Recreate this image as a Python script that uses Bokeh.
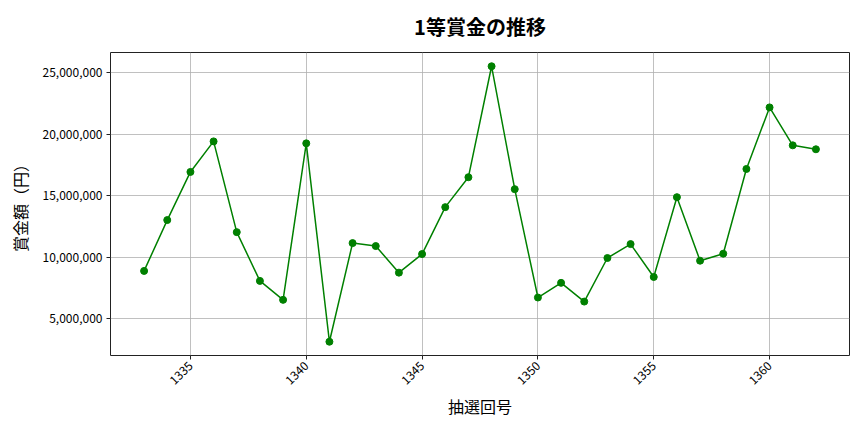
import math
from bokeh.plotting import figure
from bokeh.models import Range1d, NumeralTickFormatter, SingleIntervalTicker
from bokeh.embed import file_html
from bokeh.resources import INLINE

draws = list(range(1333, 1363))
prizes = [
    8890000, 13020000, 16930000, 19410000, 12040000, 8080000, 6540000, 19250000,
    3140000, 11150000, 10910000, 8750000, 10260000, 14070000, 16500000, 25510000,
    15530000, 6730000, 7920000, 6400000, 9940000, 11070000, 8400000, 14880000,
    9720000, 10290000, 17170000, 22170000, 19090000, 18770000,
]
title_text = "1等賞金の推移"
x_label = "抽選回号"
y_label = "賞金額（円）"

FONT = "Noto Sans CJK JP"

xmin, xmax = min(draws), max(draws)
xpad = (xmax - xmin) * 0.05
ymin, ymax = min(prizes), max(prizes)
ypad = (ymax - ymin) * 0.05

p = figure(
    width=856, height=424,
    output_backend="svg", toolbar_location=None,
    x_range=Range1d(xmin - xpad, xmax + xpad),
    y_range=Range1d(ymin - ypad, ymax + ypad),
    min_border_left=110, min_border_right=7,
    min_border_top=52, min_border_bottom=69,
    title=title_text,
)
p.background_fill_color = "white"
p.border_fill_color = "white"
p.outline_line_color = "#222222"
p.outline_line_width = 1

p.title.text_font = FONT
p.title.text_font_size = "20px"
p.title.text_font_style = "bold"
p.title.align = "center"
p.title.vertical_align = "top"
p.title.text_color = "#000000"
p.title.standoff = 20

p.line(draws, prizes, line_color="green", line_width=1.5)
p.scatter(draws, prizes, size=7, fill_color="green", line_color="green")

p.xaxis.ticker = SingleIntervalTicker(interval=5)
p.yaxis.ticker = SingleIntervalTicker(interval=5_000_000)
p.yaxis.formatter = NumeralTickFormatter(format="0,0")
p.xaxis.major_label_orientation = math.pi / 4

for ax in (p.xaxis[0], p.yaxis[0]):
    ax.axis_line_color = None
    ax.major_tick_line_color = "#222222"
    ax.major_tick_out = 4
    ax.major_tick_in = 0
    ax.minor_tick_line_color = None
    ax.major_label_text_font = FONT
    ax.major_label_text_font_size = "12px"
    ax.major_label_text_color = "#000000"
    ax.major_label_standoff = 4
    ax.axis_label_text_font = FONT
    ax.axis_label_text_font_size = "16px"
    ax.axis_label_text_font_style = "normal"
    ax.axis_label_text_color = "#000000"

p.xaxis.axis_label = x_label
p.yaxis.axis_label = y_label
p.xaxis.axis_label_standoff = 2
p.yaxis.axis_label_standoff = 8

p.grid.grid_line_color = "#b0b0b0"
p.grid.grid_line_width = 0.8

open("out.html", "w").write(file_html(p, INLINE))
